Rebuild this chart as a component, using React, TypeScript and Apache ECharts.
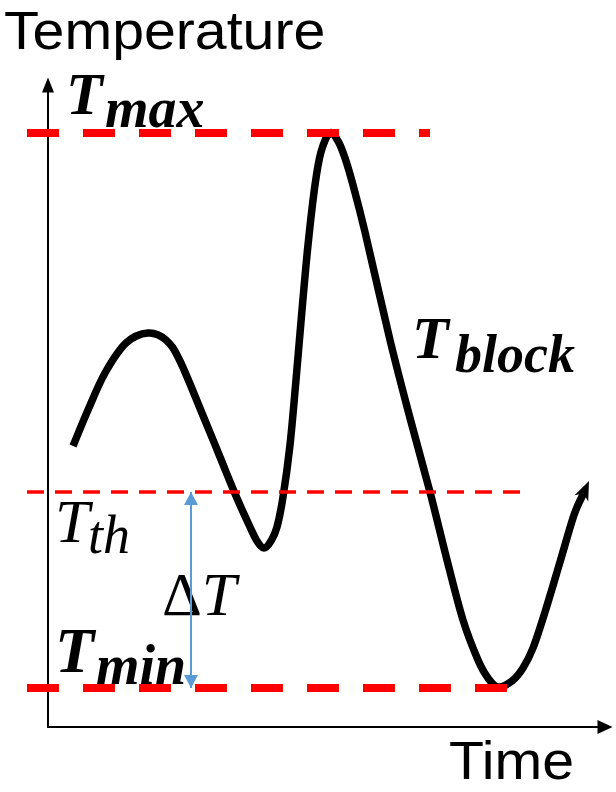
import React, { useEffect, useRef } from "react";
import * as echarts from "echarts";

// Block temperature trace (time units, temperature units); the last point is the arrow tip
const CURVE_TIME = [
  25, 40, 57, 78, 100, 118, 132, 156, 172, 188, 202, 209, 216, 223, 229,
  235, 242, 248, 254, 260, 267, 273, 282, 290, 297, 305, 317, 342, 362, 382,
  399, 415, 430, 440, 450, 464, 475, 485, 497, 512, 526, 541,
];
const CURVE_TEMP = [
  281, 317, 354, 384, 394, 387, 366, 309, 270, 231, 200, 186, 179, 186,
  200, 230, 282, 347, 417, 482, 542, 575, 594, 586, 569, 542, 495, 387, 309,
  235, 167, 107, 67, 49, 40, 46, 59, 79, 115, 165, 212, 246,
];

// Reference levels
const LEVEL_NAMES = ["Tmax", "Tth", "Tmin"];
const LEVEL_TEMPS = [594, 235, 39];
const LEVEL_START = [-21, -21, -21];
const LEVEL_END = [382, 482, 483];

// Position of the ΔT span along the time axis
const DELTA_T_TIME = 143;

// Axis extents
const TIME_MIN_GUIDE = -21;
const TIME_MAX = 557;
const TEMP_MAX = 642;

const MATH_FONT = "'Liberation Serif', 'Times New Roman', serif";
const TEXT_FONT = "'Liberation Sans', Arial, sans-serif";

type Pt = [number, number];

// Catmull-Rom spline through the points, written as cubic Bézier segments
function splinePath(pts: Pt[]): string {
  let d = `M${pts[0][0]},${pts[0][1]}`;
  for (let i = 0; i < pts.length - 1; i++) {
    const p0 = pts[Math.max(i - 1, 0)];
    const p1 = pts[i];
    const p2 = pts[i + 1];
    const p3 = pts[Math.min(i + 2, pts.length - 1)];
    const c1x = p1[0] + (p2[0] - p0[0]) / 6;
    const c1y = p1[1] + (p2[1] - p0[1]) / 6;
    const c2x = p2[0] - (p3[0] - p1[0]) / 6;
    const c2y = p2[1] - (p3[1] - p1[1]) / 6;
    d += ` C${c1x},${c1y} ${c2x},${c2y} ${p2[0]},${p2[1]}`;
  }
  return d;
}

export default function App() {
  const ref = useRef<HTMLDivElement>(null);

  useEffect(() => {
    if (!ref.current) return;
    const chart = echarts.init(ref.current, undefined, { renderer: "svg" });

    const levelStyle = [
      { width: 8, type: [32, 24] },
      { width: 3.5, type: [17, 11] },
      { width: 8, type: [32, 24] },
    ];

    // Guide lines live on a second grid that shares the same scale but
    // reaches a little left of the temperature axis.
    const levelSeries: any[] = LEVEL_NAMES.map((name, i) => ({
      name,
      type: "line",
      xAxisIndex: 1,
      yAxisIndex: 1,
      clip: false,
      silent: true,
      symbol: "none",
      z: 3,
      data: [
        [LEVEL_START[i], LEVEL_TEMPS[i]],
        [LEVEL_END[i], LEVEL_TEMPS[i]],
      ],
      lineStyle: { color: "#ff0000", width: levelStyle[i].width, type: levelStyle[i].type },
    }));

    // ΔT span between threshold and minimum
    levelSeries[1].markLine = {
      silent: true,
      symbol: ["triangle", "triangle"],
      symbolSize: [14, 13],
      symbolOffset: [[0, 6.5], [0, 6.5]],
      label: { show: false },
      lineStyle: { color: "#5b9bd5", width: 2, type: "solid" },
      emphasis: { disabled: true },
      data: [
        [
          { coord: [DELTA_T_TIME, LEVEL_TEMPS[1]] },
          { coord: [DELTA_T_TIME, LEVEL_TEMPS[2]] },
        ],
      ],
    };

    // Smooth temperature trace with an arrow head at its end
    const curveSeries = {
      name: "Tblock",
      type: "custom",
      coordinateSystem: "cartesian2d",
      xAxisIndex: 0,
      yAxisIndex: 0,
      silent: true,
      z: 2,
      data: CURVE_TIME.map((t, i) => [t, CURVE_TEMP[i]]),
      encode: { x: 0, y: 1 },
      renderItem: (params: any, api: any) => {
        if (params.dataIndex !== 0) return null;
        const pts: Pt[] = CURVE_TIME.map((t, i) => api.coord([t, CURVE_TEMP[i]]) as Pt);
        const tip = pts[pts.length - 1];
        const prev = pts[pts.length - 2];
        const len = Math.hypot(tip[0] - prev[0], tip[1] - prev[1]);
        const dx = (tip[0] - prev[0]) / len;
        const dy = (tip[1] - prev[1]) / len;
        const nx = -dy;
        const ny = dx;
        const headLen = 19;
        const halfW = 7.5;
        const base: Pt = [tip[0] - headLen * dx, tip[1] - headLen * dy];
        const notch: Pt = [tip[0] - 0.72 * headLen * dx, tip[1] - 0.72 * headLen * dy];
        const linePts = pts.slice(0, -1).concat([notch]);
        return {
          type: "group",
          children: [
            {
              type: "path",
              shape: { pathData: splinePath(linePts) },
              style: { stroke: "#000", lineWidth: 7.5, fill: "none", lineJoin: "round" },
            },
            {
              type: "polygon",
              shape: {
                points: [
                  tip,
                  [base[0] + halfW * nx, base[1] + halfW * ny],
                  notch,
                  [base[0] - halfW * nx, base[1] - halfW * ny],
                ],
              },
              style: { fill: "#000" },
            },
          ],
        };
      },
    };

    const mathText = (text: string, x: number, y: number, size: number, bold = true) => ({
      type: "text",
      x,
      y,
      silent: true,
      style: {
        text,
        fill: "#000",
        fontFamily: MATH_FONT,
        fontSize: size,
        fontStyle: "italic",
        fontWeight: bold ? "bold" : "normal",
        align: "left",
        verticalAlign: "middle",
      },
    });

    const axisTitle = (text: string, x: number, y: number) => ({
      type: "text",
      x,
      y,
      scaleX: 1.08,
      silent: true,
      style: {
        text,
        fill: "#000",
        fontFamily: TEXT_FONT,
        fontSize: 53,
        align: "left",
        verticalAlign: "middle",
      },
    });

    const hiddenAxis = {
      show: false,
      axisLine: { show: false },
      axisTick: { show: false },
      axisLabel: { show: false },
      splitLine: { show: false },
    };

    chart.setOption({
      animation: false,
      backgroundColor: "#fff",
      grid: [
        { left: 48, right: 11, top: 85, bottom: 65 },
        { left: 27, right: 11, top: 85, bottom: 65 },
      ],
      xAxis: [
        {
          type: "value",
          gridIndex: 0,
          min: 0,
          max: TIME_MAX,
          axisLine: {
            show: true,
            symbol: ["none", "triangle"],
            symbolSize: [14, 15],
            lineStyle: { color: "#000", width: 2 },
          },
          axisTick: { show: false },
          axisLabel: { show: false },
          splitLine: { show: false },
        },
        { type: "value", gridIndex: 1, min: TIME_MIN_GUIDE, max: TIME_MAX, ...hiddenAxis },
      ],
      yAxis: [
        {
          type: "value",
          gridIndex: 0,
          min: 0,
          max: TEMP_MAX,
          axisLine: {
            show: true,
            symbol: ["none", "triangle"],
            symbolSize: [12, 15],
            lineStyle: { color: "#000", width: 2 },
          },
          axisTick: { show: false },
          axisLabel: { show: false },
          splitLine: { show: false },
        },
        { type: "value", gridIndex: 1, min: 0, max: TEMP_MAX, ...hiddenAxis },
      ],
      series: [curveSeries, ...levelSeries],
      graphic: [
        axisTitle("Temperature", 4, 31),
        axisTitle("Time", 449, 761),
        mathText("T", 66, 94, 60),
        mathText("max", 105, 108, 56),
        mathText("T", 412, 338, 60),
        mathText("block", 455, 354, 54),
        mathText("T", 55, 521, 62, false),
        mathText("th", 88, 535, 54, false),
        mathText("T", 55, 650, 64),
        mathText("min", 96, 665, 56),
        {
          type: "text",
          x: 162,
          y: 594,
          silent: true,
          style: {
            text: "{d|Δ}{t|T}",
            fill: "#000",
            align: "left",
            verticalAlign: "middle",
            rich: {
              d: { fontFamily: MATH_FONT, fontSize: 62, fill: "#000" },
              t: { fontFamily: MATH_FONT, fontSize: 62, fontStyle: "italic", fill: "#000" },
            },
          },
        },
      ],
    });

    return () => chart.dispose();
  }, []);

  return (
    <div
      ref={ref}
      style={{ position: "fixed", left: 0, top: 0, width: 616, height: 792, background: "#fff" }}
    />
  );
}
